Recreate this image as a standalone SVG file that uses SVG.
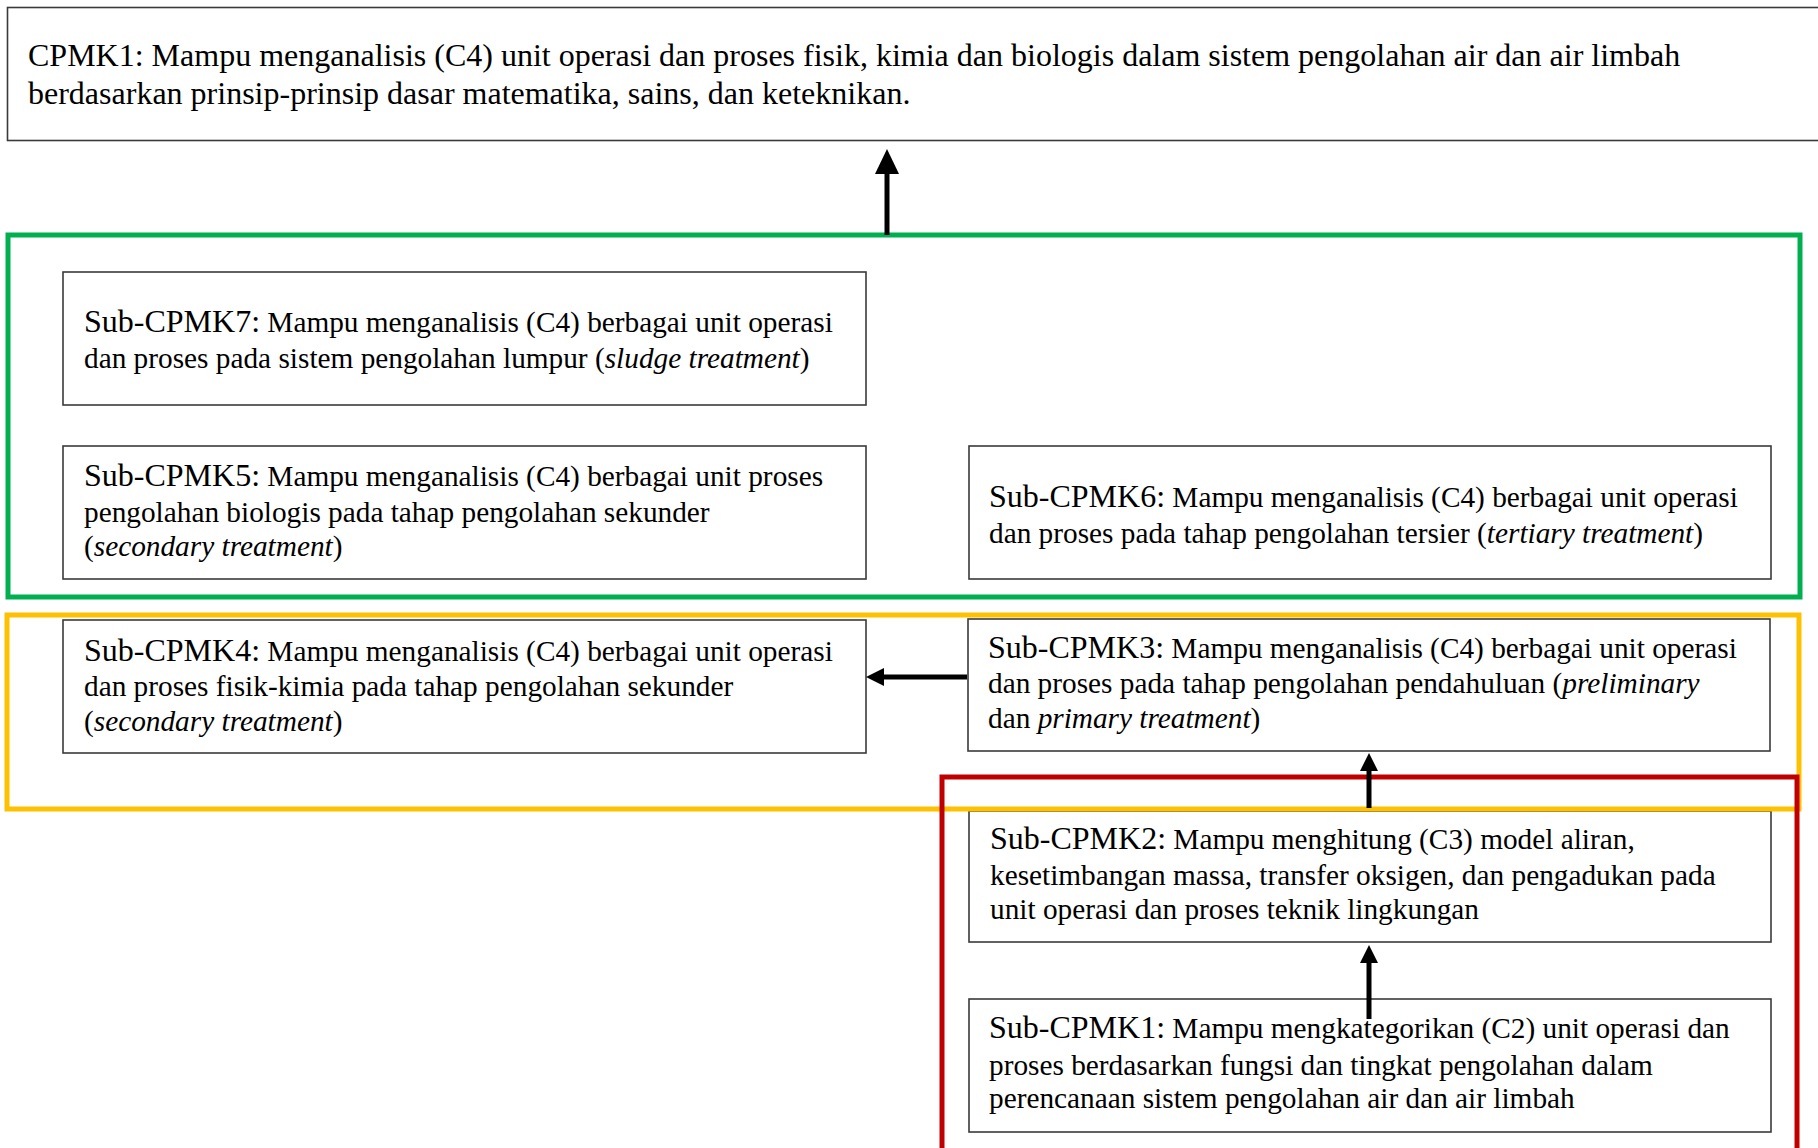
<svg xmlns="http://www.w3.org/2000/svg" width="1818" height="1148" viewBox="0 0 1818 1148">
<style>
  .box { fill: #ffffff; stroke: #3a3a3a; stroke-width: 1.6; }
  .t { font-family: "Liberation Serif", "Times New Roman", serif; font-size: 29.3px; fill: #000000; }
  .tl { font-size: 32px; }
  .i { font-style: italic; }
  .frame { fill: none; stroke-width: 5; }
  .g { stroke: #00B050; }
  .y { stroke: #FFC000; }
  .r { stroke: #C00000; }
  .conn { stroke: #000000; stroke-width: 5; fill: none; }
</style>
<defs>
  <marker id="headL" markerUnits="userSpaceOnUse" viewBox="0 -12 25 24" markerWidth="25" markerHeight="24" refX="1" refY="0" orient="auto">
    <path d="M0,-12 L25,0 L0,12 Z" fill="#000000"/>
  </marker>
  <marker id="headS" markerUnits="userSpaceOnUse" viewBox="0 -9 18 18" markerWidth="18" markerHeight="18" refX="1" refY="0" orient="auto">
    <path d="M0,-9 L18,0 L0,9 Z" fill="#000000"/>
  </marker>
</defs>
<rect width="1818" height="1148" fill="#ffffff"/>

<g id="cpmk1">
  <rect class="box" x="7.5" y="7.5" width="1830" height="133"/>
  <text class="t" style="font-size:32px" x="28" y="66">CPMK1: Mampu menganalisis (C4) unit operasi dan proses fisik, kimia dan biologis dalam sistem pengolahan air dan air limbah</text>
  <text class="t" style="font-size:32px" x="28" y="104">berdasarkan prinsip-prinsip dasar matematika, sains, dan keteknikan.</text>
</g>

<g id="sub-cpmk7">
  <rect class="box" x="63" y="272" width="803" height="133"/>
  <text class="t" x="84" y="332"><tspan class="tl">Sub-CPMK7:</tspan> Mampu menganalisis (C4) berbagai unit operasi</text>
  <text class="t" x="84" y="368">dan proses pada sistem pengolahan lumpur (<tspan class="i">sludge treatment</tspan>)</text>
</g>

<g id="sub-cpmk5">
  <rect class="box" x="63" y="446" width="803" height="133"/>
  <text class="t" x="84" y="486"><tspan class="tl">Sub-CPMK5:</tspan> Mampu menganalisis (C4) berbagai unit proses</text>
  <text class="t" x="84" y="522">pengolahan biologis pada tahap pengolahan sekunder</text>
  <text class="t" x="84" y="556">(<tspan class="i">secondary treatment</tspan>)</text>
</g>

<g id="sub-cpmk6">
  <rect class="box" x="969" y="446" width="802" height="133"/>
  <text class="t" x="989" y="507"><tspan class="tl">Sub-CPMK6:</tspan> Mampu menganalisis (C4) berbagai unit operasi</text>
  <text class="t" x="989" y="543">dan proses pada tahap pengolahan tersier (<tspan class="i">tertiary treatment</tspan>)</text>
</g>

<g id="sub-cpmk4">
  <rect class="box" x="63" y="620" width="803" height="133"/>
  <text class="t" x="84" y="661"><tspan class="tl">Sub-CPMK4:</tspan> Mampu menganalisis (C4) berbagai unit operasi</text>
  <text class="t" x="84" y="696">dan proses fisik-kimia pada tahap pengolahan sekunder</text>
  <text class="t" x="84" y="731">(<tspan class="i">secondary treatment</tspan>)</text>
</g>

<g id="sub-cpmk3">
  <rect class="box" x="968" y="619" width="802" height="132"/>
  <text class="t" x="988" y="658"><tspan class="tl">Sub-CPMK3:</tspan> Mampu menganalisis (C4) berbagai unit operasi</text>
  <text class="t" x="988" y="693">dan proses pada tahap pengolahan pendahuluan (<tspan class="i">preliminary</tspan></text>
  <text class="t" x="988" y="728">dan <tspan class="i">primary treatment</tspan>)</text>
</g>

<g id="sub-cpmk2">
  <rect class="box" x="969" y="811" width="802" height="131"/>
  <text class="t" x="990" y="849"><tspan class="tl">Sub-CPMK2:</tspan> Mampu menghitung (C3) model aliran,</text>
  <text class="t" x="990" y="885">kesetimbangan massa, transfer oksigen, dan pengadukan pada</text>
  <text class="t" x="990" y="919">unit operasi dan proses teknik lingkungan</text>
</g>

<g id="sub-cpmk1">
  <rect class="box" x="969" y="999" width="802" height="133"/>
  <text class="t" x="989" y="1038"><tspan class="tl">Sub-CPMK1:</tspan> Mampu mengkategorikan (C2) unit operasi dan</text>
  <text class="t" x="989" y="1075">proses berdasarkan fungsi dan tingkat pengolahan dalam</text>
  <text class="t" x="989" y="1108">perencanaan sistem pengolahan air dan air limbah</text>
</g>

<g id="frame-green">
  <rect class="frame g" x="8" y="235" width="1792" height="362"/>
</g>
<g id="frame-yellow">
  <rect class="frame y" x="7" y="615" width="1792" height="194"/>
</g>
<g id="frame-red">
  <rect class="frame r" x="942" y="777" width="855" height="420"/>
</g>

<g id="connectors">
  <line class="conn" x1="887" y1="235" x2="887" y2="173" marker-end="url(#headL)"/>
  <line class="conn" x1="967" y1="677" x2="883" y2="677" marker-end="url(#headS)"/>
  <line class="conn" x1="1369" y1="808" x2="1369" y2="770" marker-end="url(#headS)"/>
  <line class="conn" x1="1369" y1="1019" x2="1369" y2="962" marker-end="url(#headS)"/>
</g>
</svg>
